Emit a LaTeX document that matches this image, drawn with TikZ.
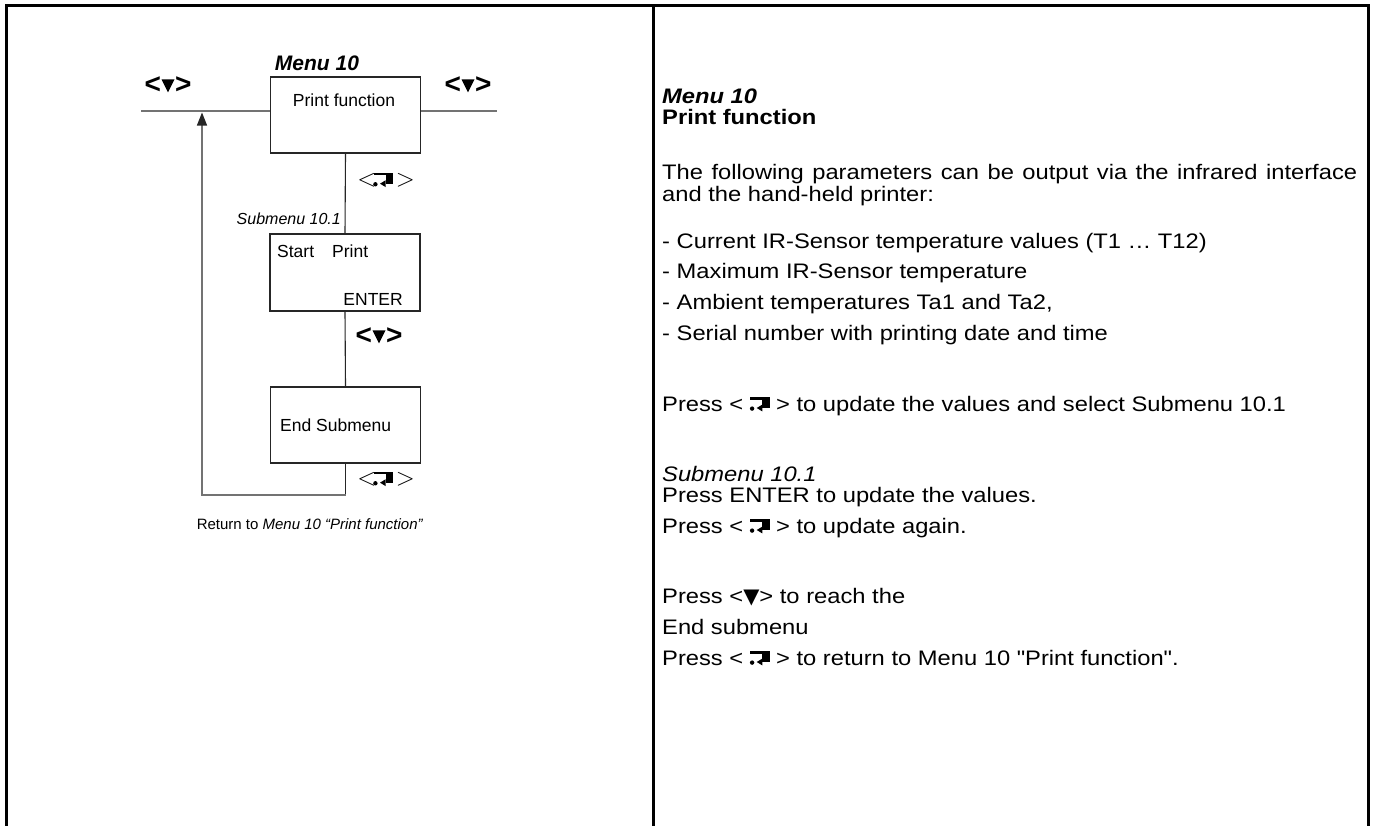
\documentclass[tikz,border=0pt]{standalone}
\usepackage{fontspec}
\setmainfont{Liberation Sans}
\newfontfamily\rfont{Liberation Sans}[FakeStretch=1.13]
\newfontfamily\dejavu{DejaVu Sans}
\usetikzlibrary{arrows.meta}
\newcommand{\entsym}[1][20pt]{\tikz[baseline=0pt,x=#1,y=#1]{%
  \fill (0.04,0.56) rectangle (1,0.7);
  \fill (0.64,0.14) rectangle (1,0.7);
  \fill (0.64,-0.02) -- (0.64,0.32) -- (0.36,0.15) -- cycle;
  \fill (0.13,0.12) circle (0.11);}}
\newcommand{\dtri}{\tikz[baseline=0pt]{\fill (0pt,14pt) -- (13pt,14pt) -- (6.5pt,1pt) -- cycle;}}
\newcommand{\keyarrows}{{\fontsize{28}{28}\selectfont <}\hspace{0.5pt}\dtri\hspace{0.5pt}{\fontsize{28}{28}\selectfont >}}
\newcommand{\entlabel}{{\fontsize{25}{25}\selectfont$<$}\hspace{-3pt}\entsym\hspace{3pt}{\fontsize{25}{25}\selectfont$>$}}
\tikzset{
  frame/.style={line width=3pt, black},
  boxnode/.style={draw=black!85, line width=1.1pt, minimum width=150pt, minimum height=76pt, inner sep=0pt},
  conn/.style={draw=black!85, line width=1.1pt},
  grayline/.style={draw=black!55, line width=1.4pt},
  rtext/.style={anchor=base west, inner sep=0pt, font=\rfont\fontsize{21}{25}\selectfont},
  boxtext/.style={inner sep=0pt, font=\fontsize{17.5}{20}\selectfont},
  keylab/.style={inner sep=0pt, font=\bfseries},
  entlab/.style={inner sep=0pt},
}
\begin{document}
\begin{tikzpicture}[x=1pt,y=-1pt]
\useasboundingbox (0,0) rectangle (1374,825);
\fill[white] (0,0) rectangle (1374,825);
% frame
\draw[frame] (6,826) -- (6,5) -- (1368,5) -- (1368,826);
\draw[frame] (653,5) -- (653,826);

% left diagram
\node[inner sep=0pt, font=\fontsize{21}{23}\selectfont\bfseries\itshape] (m10) at (317,63) {Menu 10};
\node[boxnode] (b1) at (345.5,115) {};
\node[boxnode, minimum height=77pt] (b2) at (345,272.5) {};
\node[boxnode] (b3) at (345.5,425) {};
\node[boxtext] (t1) at (344,100) {Print function};
\node[boxtext, anchor=west] (t2) at (277,251) {Start\hspace{18pt}Print};
\node[boxtext, anchor=east] (t3) at (403,299) {ENTER};
\node[boxtext, anchor=west] (t4) at (280,425) {End Submenu};

\node[keylab] (kl) at (168,85) {\keyarrows};
\node[keylab] (kr) at (468,85) {\keyarrows};
\node[keylab] (km) at (379,336) {\keyarrows};

\node[entlab] (e1) at (386,180) {\entlabel};
\node[entlab] (e2) at (386,479) {\entlabel};

\node[inner sep=0pt, anchor=east, font=\fontsize{16}{18}\selectfont\itshape] (sm) at (341,219) {Submenu 10.1};
\node[inner sep=0pt, font=\fontsize{15}{18}\selectfont] (ret) at (310,524) {Return to \textit{Menu 10 “Print function”}};

\coordinate (L) at (141,111);
\coordinate (R) at (497,111);
\coordinate (c1) at (345.5,495);
\coordinate (c2) at (202,495);
\coordinate (c3) at (202,112.5);
\draw[grayline] (L) -- (L -| b1.west);
\draw[grayline] (R -| b1.east) -- (R);
\draw[conn] (b1.south) -- (b2.north);
\draw[conn] (b2.south) -- (b3.north);
\draw[conn] (b3.south) -- (c1);
\draw[grayline, -{Triangle[length=13pt,width=10pt,color=black!85]}] (c1) -- (c2) -- (c3);

% right text
\node[rtext, font=\rfont\fontsize{21}{25}\selectfont\bfseries\itshape] (r1) at (662,103) {Menu 10};
\node[rtext, font=\rfont\fontsize{21}{25}\selectfont\bfseries] (r2) at (662,124) {Print function};
\node[rtext] (r3) at (662,179) {\makebox[695pt][s]{The following parameters can be output via the infrared interface}};
\node[rtext] (r4) at (662,201) {and the hand-held printer:};
\node[rtext] (r5) at (662,248) {- Current IR-Sensor temperature values (T1 … T12)};
\node[rtext] (r6) at (662,278) {- Maximum IR-Sensor temperature};
\node[rtext] (r7) at (662,309) {- Ambient temperatures Ta1 and Ta2,};
\node[rtext] (r8) at (662,340) {- Serial number with printing date and time};
\node[rtext] (r9) at (662,411) {Press <\ \entsym\ > to update the values and select Submenu 10.1};
\node[rtext, font=\rfont\fontsize{21}{25}\selectfont\itshape] (r10) at (662,481) {Submenu 10.1};
\node[rtext] (r11) at (662,502) {Press ENTER to update the values.};
\node[rtext] (r12) at (662,533) {Press <\ \entsym\ > to update again.};
\node[rtext] (r13) at (662,603) {Press <{\dejavu ▼}> to reach the};
\node[rtext] (r14) at (662,634) {End submenu};
\node[rtext] (r15) at (662,665) {Press <\ \entsym\ > to return to Menu 10 \char34 Print function\char34.};
\end{tikzpicture}
\end{document}
